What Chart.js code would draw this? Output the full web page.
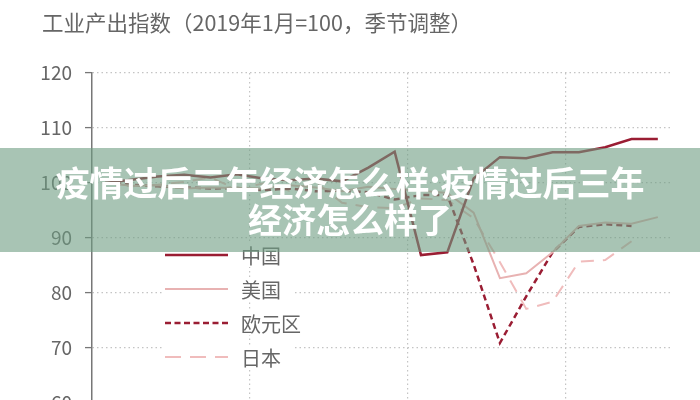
<!DOCTYPE html>
<html>
<head>
<meta charset="utf-8">
<script src="https://cdn.jsdelivr.net/npm/chart.js@4"></script>
<style>
html,body{margin:0;padding:0;background:#fff;overflow:hidden;width:700px;height:400px;}
#wrap{position:relative;width:700px;height:400px;overflow:hidden;background:#fff;}
#c{position:absolute;left:0;top:0;}
#title{position:absolute;left:42px;top:8px;font-family:"Noto Sans CJK SC","Noto Sans",sans-serif;font-size:21.5px;line-height:28px;color:#666;white-space:nowrap;}
#banner{position:absolute;left:0;top:148px;width:700px;height:104px;background:rgba(110,157,130,0.6);color:#fff;font-family:"Noto Sans CJK SC",sans-serif;font-weight:700;font-size:34px;line-height:37px;text-align:center;padding-top:15px;box-sizing:border-box;white-space:nowrap;}
</style>
</head>
<body>
<div id="wrap">
  <canvas id="c" width="700" height="460"></canvas>
  <div id="title">工业产出指数（2019年1月=100，季节调整）</div>
  <div id="banner">疫情过后三年经济怎么样:疫情过后三年<br>经济怎么样了</div>
</div>
<script>
// ---- data ----
const months = ['2019-01','2019-02','2019-03','2019-04','2019-05','2019-06','2019-07','2019-08','2019-09','2019-10','2019-11','2019-12',
                '2020-01','2020-02','2020-03','2020-04','2020-05','2020-06','2020-07','2020-08','2020-09','2020-10'];
const seriesNames = ['中国','美国','欧元区','日本'];
const chinaValues = [100, 100.6, 101.2, 101.5, 101.0, 101.6, 100.8, 100.5, 100.8, 100.3, 102.8, 105.7,
                     86.9, 87.4, 100.8, 104.7, 104.5, 105.6, 105.6, 106.5, 108.0, 108.0];
const usValues    = [100, 99.5, 99.6, 99.0, 99.2, 99.1, 99.0, 99.6, 99.2, 98.5, 99.3, 98.9,
                     98.6, 98.2, 94.6, 82.7, 83.6, 87.4, 92.2, 92.8, 92.6, 93.8];
const euroValues  = [100, 99.7, 99.4, 99.2, 99.0, 99.1, 98.7, 99.0, 98.5, 98.6, 98.3, 97.0,
                     97.8, 97.8, 85.2, 70.9, 79.4, 87.4, 92.0, 92.5, 92.2, null];
const japanValues = [100, 99.4, 99.7, 100.2, 101.0, 98.9, 99.9, 98.6, 100.2, 96.4, 95.6, 95.4,
                     97.2, 96.9, 93.6, 85.6, 77.1, 78.4, 85.7, 86.0, 89.4, null];
const yTicks = [60, 70, 80, 90, 100, 110, 120];

// ---- legend drawn inside the plot ----
const innerLegend = {
  id: 'innerLegend',
  afterDatasetsDraw(chart, args, o) {
    const ctx = chart.ctx;
    ctx.save();
    chart.data.datasets.forEach((ds, i) => {
      const y = o.rows[i];
      ctx.fillStyle = '#fff';
      ctx.fillRect(o.boxX, y - o.boxH / 2, o.boxW, o.boxH);
      ctx.beginPath();
      ctx.strokeStyle = ds.borderColor;
      ctx.lineWidth = ds.borderWidth;
      ctx.setLineDash(ds.legendDash || []);
      ctx.moveTo(o.lineX0, y);
      ctx.lineTo(o.lineX1, y);
      ctx.stroke();
      ctx.setLineDash([]);
      ctx.fillStyle = o.color;
      ctx.font = o.font;
      ctx.textBaseline = 'middle';
      ctx.textAlign = 'left';
      ctx.fillText(ds.label, o.textX, y + 1);
    });
    ctx.restore();
  }
};

const gridGray = '#c4c4c4';
new Chart(document.getElementById('c'), {
  type: 'line',
  data: {
    labels: months,
    datasets: [
      { label: seriesNames[0], data: chinaValues, borderColor: '#9a1d33', borderWidth: 2.5, legendDash: [] },
      { label: seriesNames[1], data: usValues, borderColor: '#e8b2b2', borderWidth: 2, legendDash: [] },
      { label: seriesNames[2], data: euroValues, borderColor: '#9a1d33', borderWidth: 2.5, borderDash: [6, 4], legendDash: [6, 3.5] },
      { label: seriesNames[3], data: japanValues, borderColor: '#f0bcbc', borderWidth: 2, borderDash: [13, 9], legendDash: [16, 9] }
    ]
  },
  plugins: [innerLegend],
  options: {
    responsive: false,
    animation: false,
    layout: { padding: { top: 73, right: 29, bottom: 17, left: 0 } },
    elements: { point: { radius: 0 }, line: { tension: 0, fill: false } },
    plugins: {
      legend: { display: false },
      tooltip: { enabled: false },
      innerLegend: {
        rows: [255, 289, 323, 357],
        boxX: 162, boxW: 130, boxH: 24,
        lineX0: 165, lineX1: 228, textX: 241,
        color: '#666',
        font: '20px "Noto Sans CJK SC", sans-serif'
      }
    },
    scales: {
      x: {
        offset: true,
        grid: {
          offset: true,
          drawTicks: false,
          lineWidth: 1.2,
          color: (c) => (c.index > 0 && c.index % 6 === 0) ? gridGray : 'rgba(0,0,0,0)'
        },
        border: { display: false, dash: [1.5, 3] },
        ticks: { color: '#666', font: { size: 14 }, maxRotation: 0, autoSkip: false,
                 callback: (v, i) => (i % 6 === 0 ? months[i] : '') },
        afterFit: (s) => { s.height = 40; }
      },
      y: {
        min: 60, max: 120,
        afterBuildTicks: (s) => { s.ticks = yTicks.map(v => ({ value: v })); },
        ticks: { color: '#666', padding: 13, font: { size: 19, family: '"Noto Sans CJK SC", sans-serif' } },
        grid: { color: gridGray, lineWidth: 1.2, tickLength: 7, tickColor: '#777', tickWidth: 1.3, tickBorderDash: [] },
        border: { display: true, color: '#777', width: 1.5, dash: [1.5, 3] },
        afterFit: (s) => { s.width = 92; }
      }
    }
  }
});
</script>
</body>
</html>
